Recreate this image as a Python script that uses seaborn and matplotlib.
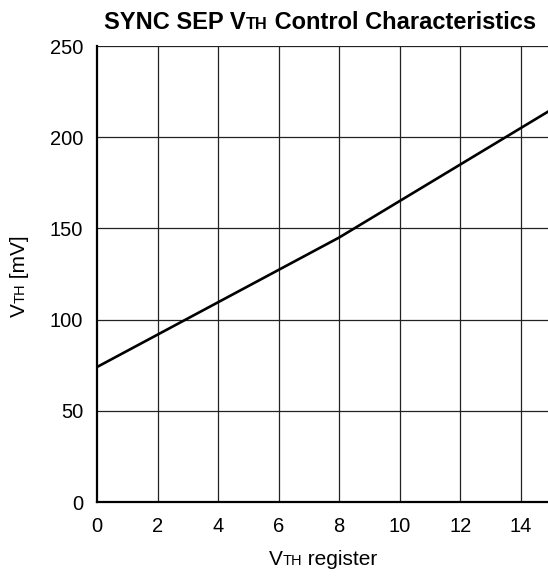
import matplotlib
matplotlib.use("Agg")
import matplotlib.pyplot as plt
import seaborn as sns
import pandas as pd

# Data
register = [0, 8, 15]
vth_mv = [74, 145, 215]
x_ticks = [0, 2, 4, 6, 8, 10, 12, 14]
y_ticks = [0, 50, 100, 150, 200, 250]

sns.set_theme(style="white")
plt.rcParams['font.family'] = ['Liberation Sans', 'DejaVu Sans']

W, H = 548, 576
fig = plt.figure(figsize=(W / 100, H / 100), dpi=100)
ax = fig.add_axes([97 / W, 1 - 502 / H, (551 - 97) / W, (502 - 46) / H])

df = pd.DataFrame({"register": register, "vth": vth_mv})
sns.lineplot(data=df, x="register", y="vth", ax=ax, color="black", lw=1.9, clip_on=True)

ax.set_xlim(0, 15)
ax.set_ylim(0, 250)
ax.set_xticks(x_ticks)
ax.set_yticks(y_ticks)
ax.tick_params(axis='both', length=0, labelsize=14.5, colors='black')
ax.tick_params(axis='x', pad=10.5)
ax.tick_params(axis='y', pad=10)
for v in x_ticks[1:]:
    ax.axvline(v, color='#222222', lw=0.9, zorder=0)
for v in y_ticks[1:]:
    ax.axhline(v, color='#222222', lw=0.9, zorder=0)
for s in ['top', 'right']:
    ax.spines[s].set_visible(False)
for s in ['left', 'bottom']:
    ax.spines[s].set_color('black')
    ax.spines[s].set_linewidth(1.6)
ax.set_xlabel("")
ax.set_ylabel("")

fig.canvas.draw()
renderer = fig.canvas.get_renderer()


def rich_text(x, y, pieces, rotation=0):
    """Place text pieces (text, size, weight) centred at x,y (pixels), on one baseline."""
    arts = []
    sizes = []
    for t, sz, wt in pieces:
        a = fig.text(0, 0, t, fontsize=sz, fontweight=wt, color='black',
                     transform=None, ha='left', va='baseline',
                     rotation=rotation, rotation_mode='anchor')
        bb = a.get_window_extent(renderer)
        sizes.append(bb.height if rotation == 90 else bb.width)
        arts.append(a)
    total = sum(sizes)
    pos = (y if rotation == 90 else x) - total / 2
    for a, s in zip(arts, sizes):
        if rotation == 90:
            a.set_position((x, pos))
        else:
            a.set_position((pos, y))
        pos += s


rich_text(320, H - 29, [("SYNC SEP V", 17, 'bold'), ("TH", 11.8, 'bold'),
                        (" Control Characteristics", 17, 'bold')])
rich_text(323, H - 565, [("V", 15, 'normal'), ("TH", 10.5, 'normal'), (" register", 15, 'normal')])
rich_text(25, H - 276, [("V", 15, 'normal'), ("TH", 10.5, 'normal'), (" [mV]", 15, 'normal')], rotation=90)

fig.savefig("out.png", dpi=100)
